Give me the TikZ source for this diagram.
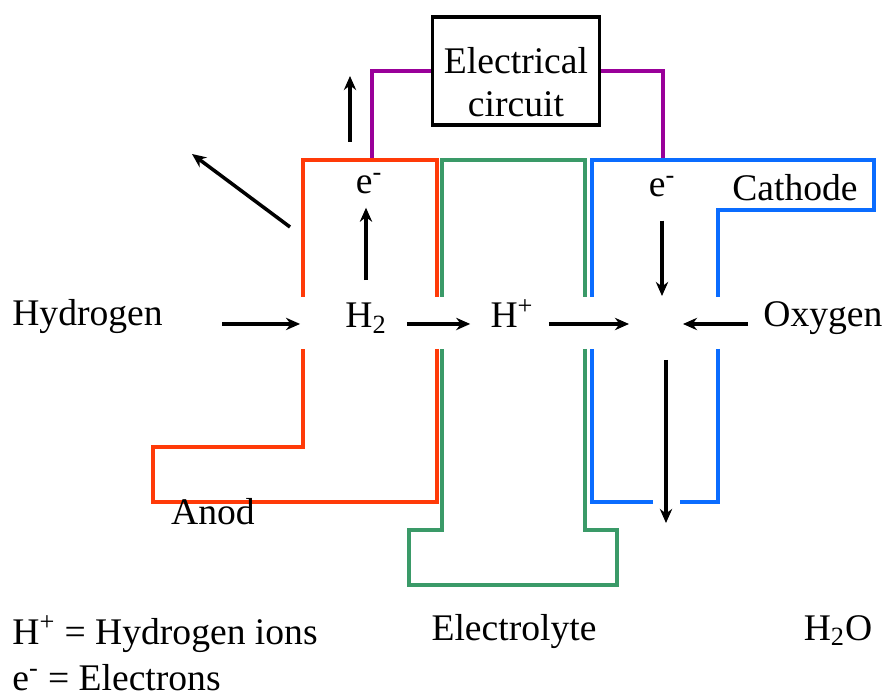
\documentclass[tikz,border=0pt]{standalone}
\usepackage{fontspec}
\setmainfont{Liberation Serif}
\usetikzlibrary{arrows.meta}
\definecolor{anodered}{HTML}{FF3A08}
\definecolor{electrogreen}{HTML}{3A9A68}
\definecolor{cathodeblue}{HTML}{0A6CFF}
\definecolor{wirepurple}{HTML}{990099}

\begin{document}
\begin{tikzpicture}[x=0.02cm,y=-0.02cm,
    every node/.style={font=\fontsize{21.4}{26}\selectfont, inner sep=0pt},
    flow/.style={line width=2pt, -{Stealth[length=8pt,width=7pt]}},
    plate/.style={line width=2pt},
    wire/.style={line width=2pt, wirepurple}]
  \useasboundingbox (0,0) rectangle (887,696);

  \node[draw, line width=2.1pt, minimum width=3.34cm, minimum height=2.16cm,
        align=center, font=\fontsize{21.4}{24.4}\selectfont] (circuit) at (516,71)
        {\rule{0pt}{0.98cm}Electrical\\circuit};

  % anode: open where hydrogen goes in and H+ goes out
  \draw[plate, anodered] (303,297) |- (437,160) -- (437,297);
  \draw[plate, anodered] (437,349) -- (437,502) -| (153,447) -| (303,349);
  % electrolyte
  \draw[plate, electrogreen] (442,297) |- (585,160) -- (585,297);
  \draw[plate, electrogreen] (585,349) |- (617,530) |- (409,585) |- (442,530) -- (442,349);
  % cathode, bottom split for the water outlet
  \draw[plate, cathodeblue] (592,297) |- (874,160) |- (718,210) -- (718,297);
  \draw[plate, cathodeblue] (718,349) |- (680,502);
  \draw[plate, cathodeblue] (653,502) -| (592,349);

  \draw[wire] (circuit.west) -| (372,158);
  \draw[wire] (circuit.east) -| (663,158);

  \node[anchor=base west] (hydrogen) at (12,326) {Hydrogen};
  \node[anchor=base] (h2) at (366,328) {H\textsubscript{2}};
  \node[anchor=base] (hplus) at (512,328) {H\textsuperscript{+}};
  \node[anchor=base west] (oxygen) at (763,327) {Oxygen};
  \node[anchor=base] (eanode) at (369,194) {e\textsuperscript{-}};
  \node[anchor=base] (ecathode) at (662,197) {e\textsuperscript{-}};
  \node[anchor=base] (cathode) at (795,201) {Cathode};
  \node[anchor=base] (anod) at (213,524) {Anod};
  \node[anchor=base] (electrolyte) at (514,640) {Electrolyte};
  \node[anchor=base] (water) at (838,640) {H\textsubscript{2}O};
  \node[anchor=base west] (keyion) at (12,644) {H\textsuperscript{+} = Hydrogen ions};
  \node[anchor=base west] (keyelec) at (12,690) {e\textsuperscript{-} = Electrons};

  \coordinate (meet) at (656,324);
  \coordinate (drain) at (666,523);
  \coordinate (upstart) at (350,142);
  \coordinate (upend) at (350,76);
  \coordinate (slantstart) at (290,227);
  \coordinate (slantend) at (192,154);

  \draw[flow, shorten <=1.18cm, shorten >=0.9cm] (hydrogen.east |- h2.mid) -- (h2.mid west);
  \draw[flow, shorten <=0.4cm, shorten >=0.4cm] (h2.mid east) -- (hplus.mid west);
  \draw[flow, shorten <=0.3cm, shorten >=0.54cm] (hplus.east |- meet) -- (meet);
  \draw[flow, shorten <=0.3cm, shorten >=0.54cm] (oxygen.west |- meet) -- (meet);
  \draw[flow, shorten <=0.46cm, shorten >=0.56cm] (ecathode.south) -- (ecathode.south |- meet);
  \draw[flow, shorten <=0.72cm] (meet -| drain) -- (drain);
  \draw[flow, shorten <=0.46cm, shorten >=0.26cm] (h2.north) -- (h2.north |- eanode.south);
  \draw[flow] (upstart) -- (upend);
  \draw[flow] (slantstart) -- (slantend);
\end{tikzpicture}
\end{document}
